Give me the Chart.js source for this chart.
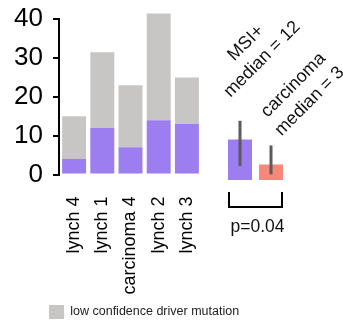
<!DOCTYPE html>
<html>
<head>
<meta charset="utf-8">
<script src="https://cdn.jsdelivr.net/npm/chart.js@4.4.1/dist/chart.umd.min.js"></script>
<style>
  body { margin: 0; background: #fff; }
  .wrap { position: relative; width: 343px; height: 325px; }
  #counts { position: absolute; left: 0; top: 0; }
  #groups { position: absolute; left: 210px; top: 0; }
</style>
</head>
<body>
<div class="wrap">
  <canvas id="counts" width="343" height="325"></canvas>
  <canvas id="groups" width="133" height="325"></canvas>
</div>
<script>
// per-sample driver mutation counts (stacked)
var samples = ["lynch 4", "lynch 1", "carcinoma 4", "lynch 2", "lynch 3"];
var highConfidence = [4, 12, 7, 14, 13];
var lowConfidence = [11, 19.5, 16, 27.5, 12];
var yTicks = [0, 10, 20, 30, 40];

// group summary: bar height, whisker ends, median shown in the label
var groups = ["MSI+", "carcinoma"];
var groupMeans = [10.2, 3.9];
var groupLow = [3.5, 1.4];
var groupHigh = [14.9, 8.7];
var groupMedians = [12, 3];
var pValue = "0.04";

var FONT = "'Liberation Sans', Arial, Helvetica, sans-serif";
var PURPLE = '#9c7ef0';
var GREY = '#c7c6c5';
var SALMON = '#f8867a';

Chart.defaults.font.family = FONT;
Chart.defaults.color = '#000';

// left spine only runs from 0 to 40; legend sits under the bars, full width
var spine = {
  id: 'spine',
  afterLayout: function(chart) {
    var lg = chart.legend;
    lg.left = 43;
    lg.right = chart.width;
    lg.width = chart.width - 43;
    lg.top += 4;
    lg.bottom += 4;
  },
  afterDraw: function(chart) {
    var y = chart.scales.y, ctx = chart.ctx;
    var x = chart.chartArea.left - 1;
    ctx.save();
    ctx.strokeStyle = '#000';
    ctx.lineWidth = 2;
    ctx.beginPath();
    ctx.moveTo(x, y.getPixelForValue(40) - 1);
    ctx.lineTo(x, y.getPixelForValue(0) + 1);
    ctx.stroke();
    ctx.restore();
  }
};

var countsChart = new Chart(document.getElementById('counts'), {
  type: 'bar',
  data: {
    labels: samples,
    datasets: [{
      label: 'driver mutation',
      data: highConfidence,
      backgroundColor: PURPLE,
      barPercentage: 0.85,
      categoryPercentage: 1
    }, {
      label: 'low confidence driver mutation',
      data: lowConfidence,
      backgroundColor: GREY,
      barPercentage: 0.85,
      categoryPercentage: 1
    }]
  },
  options: {
    responsive: false,
    devicePixelRatio: 1,
    animation: false,
    layout: { padding: { left: 0, top: 9.5, right: 142, bottom: 0 } },
    plugins: {
      legend: {
        position: 'bottom',
        align: 'start',
        labels: {
          filter: function(item) { return item.datasetIndex === 1; },
          boxWidth: 15,
          boxHeight: 14,
          padding: 6,
          color: '#222',
          font: { size: 12.5 }
        }
      },
      tooltip: { enabled: false }
    },
    scales: {
      x: {
        stacked: true,
        grid: { display: false },
        border: { display: false },
        ticks: { minRotation: 90, maxRotation: 90, autoSkip: false, padding: 14, font: { size: 18 } },
        afterFit: function(s) { s.height = 120.5; s.paddingLeft = 0; s.paddingRight = 0; }
      },
      y: {
        stacked: true,
        min: 0,
        max: 42.5,
        border: { display: false },
        grid: { drawOnChartArea: false, tickLength: 7, lineWidth: 2, color: '#000' },
        ticks: { padding: 10, font: { size: 26 } },
        afterBuildTicks: function(s) { s.ticks = yTicks.map(function(v) { return { value: v }; }); },
        afterFit: function(s) { s.width = 60; s.paddingTop = 0; s.paddingBottom = 0; }
      }
    }
  },
  plugins: [spine]
});

// whiskers, significance bracket and the rotated group captions
var groupMarks = {
  id: 'groupMarks',
  afterDatasetsDraw: function(chart) {
    var ctx = chart.ctx, y = chart.scales.y, area = chart.chartArea;
    var bars = chart.getDatasetMeta(0).data;

    ctx.save();
    ctx.strokeStyle = '#5b5b5b';
    ctx.lineWidth = 3;
    bars.forEach(function(bar, i) {
      ctx.beginPath();
      ctx.moveTo(bar.x, y.getPixelForValue(groupHigh[i]));
      ctx.lineTo(bar.x, y.getPixelForValue(groupLow[i]));
      ctx.stroke();
    });

    var left = bars[0].x - bars[0].width / 2 + 1;
    var right = bars[1].x + bars[1].width / 2 - 1;
    var top = area.bottom + 12, bottom = area.bottom + 27;
    ctx.strokeStyle = '#000';
    ctx.lineWidth = 2;
    ctx.beginPath();
    ctx.moveTo(left, top);
    ctx.lineTo(left, bottom);
    ctx.lineTo(right, bottom);
    ctx.lineTo(right, top);
    ctx.stroke();

    ctx.fillStyle = '#111';
    ctx.font = '17.5px ' + FONT;
    ctx.textAlign = 'center';
    ctx.textBaseline = 'alphabetic';
    ctx.fillText('p=' + pValue, (left + right) / 2 + 2, area.bottom + 52);

    ctx.font = '18px ' + FONT;
    var spots = [[17.5, 43.7], [34, 85.7]];
    bars.forEach(function(bar, i) {
      ctx.save();
      ctx.translate(bar.x + spots[i][0], area.top + spots[i][1]);
      ctx.rotate(-Math.PI / 4);
      ctx.fillText(groups[i], 0, -11.5);
      ctx.fillText('median = ' + groupMedians[i], 0, 11.5);
      ctx.restore();
    });
    ctx.restore();
  }
};

var groupChart = new Chart(document.getElementById('groups'), {
  type: 'bar',
  data: {
    labels: groups,
    datasets: [{
      data: groupMeans,
      backgroundColor: [PURPLE, SALMON],
      barPercentage: 0.774,
      categoryPercentage: 1
    }]
  },
  options: {
    responsive: false,
    devicePixelRatio: 1,
    animation: false,
    layout: { padding: { left: 14.5, right: 56.5, top: 11, bottom: 145 } },
    plugins: { legend: { display: false }, tooltip: { enabled: false } },
    scales: {
      x: { display: false },
      y: { display: false, min: 0, max: 42.5 }
    }
  },
  plugins: [groupMarks]
});
</script>
</body>
</html>
